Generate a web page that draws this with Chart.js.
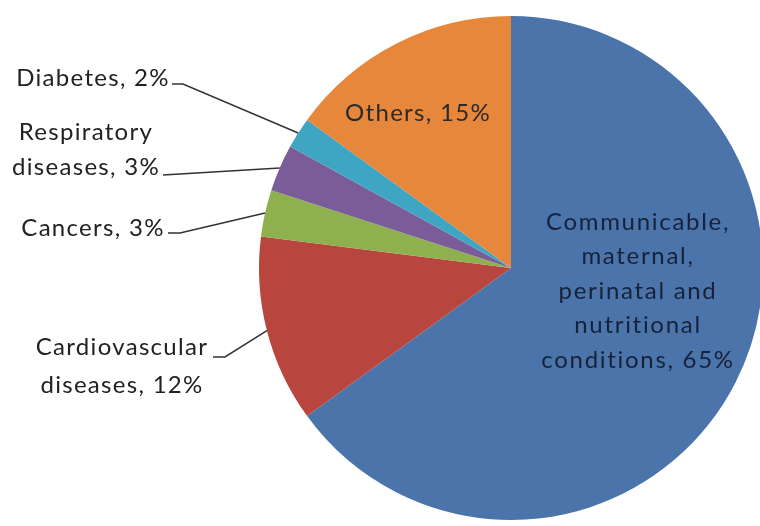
<!DOCTYPE html>
<html>
<head>
<meta charset="utf-8">
<script src="https://cdn.jsdelivr.net/npm/chart.js@4/dist/chart.umd.min.js"></script>
<style>
  html, body { margin: 0; padding: 0; background: #fff; overflow: hidden; }
  #pie { display: block; }
</style>
</head>
<body>
<canvas id="pie" width="760" height="526"></canvas>
<script>
// Parts of the total, clockwise from 12 o'clock
const categories = [
  'Communicable, maternal, perinatal and nutritional conditions',
  'Cardiovascular diseases',
  'Cancers',
  'Respiratory diseases',
  'Diabetes',
  'Others'
]
const shares = [65, 12, 3, 3, 2, 15]
const colors = ['#4a74aa', '#b8463f', '#8fb04f', '#7a5c99', '#3ea6c2', '#e6873b']

// how each category name is broken over lines in its label
const nameLines = [
  ['Communicable,', 'maternal,', 'perinatal and', 'nutritional', 'conditions'],
  ['Cardiovascular', 'diseases'],
  ['Cancers'],
  ['Respiratory', 'diseases'],
  ['Diabetes'],
  ['Others']
]

// where the labels sit; leader = start of the line to the slice, kink = flat part
const labelLayout = [
  { x: 638, y: 291, color: '#17223a', spacing: '1.7px' },
  { x: 122, y: 366, color: '#222', gap: 38, leader: [213, 357], kink: 12 },
  { x: 93, y: 228, color: '#222', leader: [168, 233], kink: 12 },
  { x: 86, y: 150, color: '#222', leader: [163, 175], kink: 0 },
  { x: 93, y: 78, color: '#222', leader: [172, 84], kink: 11 },
  { x: 418, y: 113, color: '#2a2a2a' }
]

const font = '24px Lato'
const lineHeight = 34.6

const pieLabels = {
  id: 'pieLabels',
  afterDatasetsDraw(chart) {
    const ctx = chart.ctx
    const arcs = chart.getDatasetMeta(0).data
    ctx.save()
    ctx.font = font
    ctx.textAlign = 'center'
    ctx.textBaseline = 'middle'
    ctx.strokeStyle = '#333'
    ctx.lineWidth = 1.5
    labelLayout.forEach((lay, i) => {
      const lines = nameLines[i].slice()
      lines[lines.length - 1] += ', ' + shares[i] + '%'
      const gap = lay.gap || lineHeight
      ctx.fillStyle = lay.color
      ctx.letterSpacing = lay.spacing || '1.3px'
      lines.forEach((t, k) => {
        ctx.fillText(t, lay.x, lay.y + (k - (lines.length - 1) / 2) * gap)
      })
      if (lay.leader) {
        // line ends on the rim at the middle of the slice
        const arc = arcs[i]
        const mid = (arc.startAngle + arc.endAngle) / 2
        const ex = arc.x + Math.cos(mid) * arc.outerRadius
        const ey = arc.y + Math.sin(mid) * arc.outerRadius
        ctx.beginPath()
        ctx.moveTo(lay.leader[0], lay.leader[1])
        ctx.lineTo(lay.leader[0] + lay.kink, lay.leader[1])
        ctx.lineTo(ex, ey)
        ctx.stroke()
      }
    })
    ctx.restore()
  }
}

new Chart(document.getElementById('pie').getContext('2d'), {
  type: 'pie',
  data: {
    labels: categories,
    datasets: [{
      data: shares,
      backgroundColor: colors,
      borderWidth: 0
    }]
  },
  options: {
    responsive: false,
    animation: false,
    radius: 252,
    layout: {
      padding: { left: 262, right: 0, top: 16, bottom: 6 }
    },
    plugins: {
      legend: { display: false },
      tooltip: { enabled: false }
    }
  },
  plugins: [pieLabels]
})
</script>
</body>
</html>
